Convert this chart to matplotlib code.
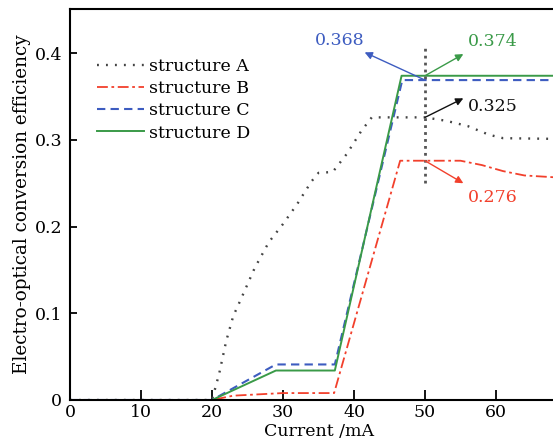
import matplotlib
matplotlib.use("Agg")
import matplotlib.pyplot as plt

plt.rcParams["font.family"] = ["DejaVu Serif"]

# Curves (current in mA, efficiency)
x_a = [0, 20, 21, 22, 23, 24, 26, 28, 30, 32, 34, 35, 37, 39, 41, 42.5, 50, 53, 56, 59, 61, 70]
y_a = [0, 0, 0.03, 0.068, 0.097, 0.115, 0.152, 0.182, 0.203, 0.226, 0.252, 0.262, 0.263, 0.284, 0.31, 0.326, 0.326, 0.322, 0.316, 0.306, 0.302, 0.301]

x_b = [0, 20, 23, 30, 37.2, 46.5, 55, 58, 61, 64, 70]
y_b = [0, 0, 0.005, 0.008, 0.008, 0.276, 0.276, 0.271, 0.264, 0.259, 0.256]

x_c = [0, 20, 29, 37.3, 46.8, 70]
y_c = [0, 0, 0.041, 0.041, 0.369, 0.369]

x_d = [0, 20, 29, 37.3, 46.7, 70]
y_d = [0, 0, 0.034, 0.034, 0.374, 0.374]

labels = ["structure A", "structure B", "structure C", "structure D"]

# annotations at I = 50 mA
marker_x = 50
ann_values = [0.368, 0.374, 0.325, 0.276]
ann_points = [0.369, 0.374, 0.326, 0.276]
ann_heads = [(41.5, 0.401), (55.4, 0.399), (55.4, 0.348), (55.4, 0.250)]
ann_text = [(38.0, 0.415), (59.6, 0.413), (59.6, 0.338), (59.6, 0.233)]

c_a, c_b, c_c, c_d = "#444444", "#f2402c", "#3d5cc0", "#3a9a48"
ann_colors = [c_c, c_d, "#111111", c_b]

fig = plt.figure(figsize=(5.53, 4.46), dpi=100)
# the original figure is cropped on the right, so the axes run past the edge
ax = fig.add_axes([70 / 553, 46 / 446, 497 / 553, 391 / 446])

ax.plot(x_a, y_a, color=c_a, lw=1.7, ls=(0, (0.8, 3)), label=labels[0])
ax.plot(x_b, y_b, color=c_b, lw=1.3, ls=(0, (6, 2, 1.5, 2)), label=labels[1])
ax.plot(x_c, y_c, color=c_c, lw=1.5, ls=(0, (4, 2.5)), label=labels[2])
ax.plot(x_d, y_d, color=c_d, lw=1.4, label=labels[3])

ax.plot([marker_x, marker_x], [0.25, 0.406], color="#555555", lw=2, ls=(0, (1, 1.5)))

for val, yp, head, txt, col in zip(ann_values, ann_points, ann_heads, ann_text, ann_colors):
    ax.annotate("", xy=head, xytext=(marker_x, yp),
                arrowprops=dict(arrowstyle="-|>", color=col, lw=1, mutation_scale=11,
                                shrinkA=0, shrinkB=0))
    ax.text(txt[0], txt[1], f"{val:.3f}", color=col, fontsize=12.5, ha="center", va="center")

ax.set_xlim(0, 70)
ax.set_ylim(0, 0.451)
ax.set_xticks([0, 10, 20, 30, 40, 50, 60])
ax.set_yticks([0, 0.1, 0.2, 0.3, 0.4])
ax.set_yticklabels(["0", "0.1", "0.2", "0.3", "0.4"])
ax.tick_params(axis="x", direction="in", length=7, width=1.3, labelsize=12.5, pad=3)
ax.tick_params(axis="y", direction="in", length=5, width=1.3, labelsize=12.5, pad=5.5)
for s in ax.spines.values():
    s.set_linewidth(1.5)

ax.set_xlabel("Current /mA", fontsize=12.5, labelpad=1)
ax.set_ylabel("Electro-optical conversion efficiency", fontsize=13.2, labelpad=3)

ax.legend(loc="upper left", bbox_to_anchor=(0.054, 0.875), frameon=False, fontsize=12.5,
          borderpad=0, borderaxespad=0, handlelength=2.7, handletextpad=0.3, labelspacing=0.3)

fig.savefig("out.png", dpi=100)
